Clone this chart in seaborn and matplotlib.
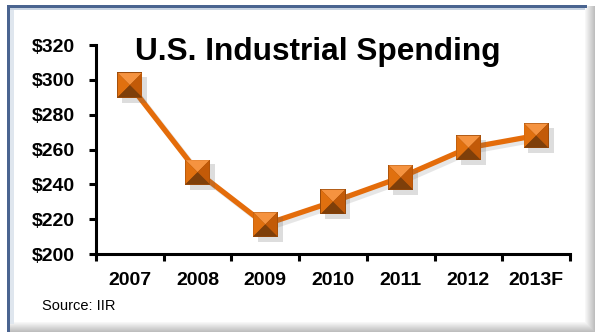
import numpy as np
import pandas as pd
import matplotlib
matplotlib.use("Agg")
import matplotlib.pyplot as plt
import matplotlib.patheffects as pe
from matplotlib.patches import Rectangle
import seaborn as sns

# Dados do gráfico
years = ["2007", "2008", "2009", "2010", "2011", "2012", "2013F"]
spending = [297, 247, 217, 230, 244, 261, 268]
y_ticks = [200, 220, 240, 260, 280, 300, 320]
y_tick_labels = ["$200", "$220", "$240", "$260", "$280", "$300", "$320"]

ORANGE = "#E46C0A"

sns.set_theme(style="white")
plt.rcParams["font.family"] = ["Liberation Sans", "DejaVu Sans"]

df = pd.DataFrame({"pos": np.arange(len(years)), "value": spending})

fig = plt.figure(figsize=(5.95, 3.32), dpi=100)
fig.patch.set_facecolor("white")

# moldura com sombra (painel)
W, H = 595.0, 332.0
for i in range(10):
    g = 0.97 - 0.025 * i
    fig.patches.append(Rectangle((585 / W + i / W, 0), 1 / W + 0.001, 1 - 6 / H,
                                 transform=fig.transFigure, color=(g, g, g), zorder=0, lw=0))
    fig.patches.append(Rectangle((8 / W, (9 - i) / H), 1, 1 / H + 0.001,
                                 transform=fig.transFigure, color=(g, g, g), zorder=0, lw=0))
fig.patches.append(Rectangle((10 / W, 8 / H), 4 / W, 1 - 16 / H,
                             transform=fig.transFigure, color="#dfe6ee", zorder=1, lw=0))
fig.patches.append(Rectangle((7 / W, 0), 3 / W, 1 - 5 / H,
                             transform=fig.transFigure, color="#4a6490", zorder=2, lw=0))
fig.patches.append(Rectangle((7 / W, 1 - 8 / H), 580 / W, 3 / H,
                             transform=fig.transFigure, color="#4a6490", zorder=2, lw=0))
fig.patches.append(Rectangle((10 / W, 1 - 10 / H), 575 / W, 2 / H,
                             transform=fig.transFigure, color="#c9d4e2", zorder=2, lw=0))

ax = fig.add_axes([96 / W, 1 - 254 / H, 474 / W, 209 / H])
ax.set_facecolor("none")

shadow = [pe.SimpleLineShadow(offset=(2.5, -2.5), shadow_color="#777777", alpha=0.18),
          pe.Normal()]
sns.lineplot(data=df, x="pos", y="value", color=ORANGE, linewidth=3.8,
             ax=ax, path_effects=shadow, zorder=3)

# marcadores em forma de pirâmide (quatro faces)
faces = {
    "top": ([(-1, 1), (1, 1), (0, 0)], "#F59340"),
    "left": ([(-1, 1), (-1, -1), (0, 0)], "#E0700F"),
    "right": ([(1, 1), (1, -1), (0, 0)], "#C25A08"),
    "bottom": ([(-1, -1), (1, -1), (0, 0)], "#7E3F0A"),
}
sns.scatterplot(data=df, x="pos", y="value", marker="s", s=330, color="#9a4a0a",
                edgecolor="none", ax=ax, zorder=4,
                path_effects=[pe.SimplePatchShadow(offset=(3.5, -3.5), shadow_rgbFace="#666666", alpha=0.22),
                              pe.Normal()])
for name, (verts, col) in faces.items():
    sns.scatterplot(data=df, x="pos", y="value", marker=verts, s=300, color=col,
                    edgecolor="none", linewidth=0, ax=ax, zorder=5)

ax.set_xlim(-0.5, len(years) - 0.5)
ax.set_ylim(200, 320)
ax.set_xticks(np.arange(len(years)))
ax.set_xticklabels(years, fontsize=14, fontweight="bold")
ax.set_xticks(np.arange(len(years) + 1) - 0.5, minor=True)
ax.set_yticks(y_ticks)
ax.set_yticklabels(y_tick_labels, fontsize=14, fontweight="bold")
ax.tick_params(axis="x", which="major", length=0, pad=13, colors="black")
ax.tick_params(axis="x", which="minor", bottom=True, length=5, width=2.2, direction="out", color="black")
ax.tick_params(axis="y", which="major", left=True, length=5, width=2.2, pad=10, direction="out", colors="black")
ax.set_xlabel("")
ax.set_ylabel("")
for s in ["top", "right"]:
    ax.spines[s].set_visible(False)
for s in ["left", "bottom"]:
    ax.spines[s].set_color("black")
    ax.spines[s].set_linewidth(2.2)
ax.grid(False)

fig.text(135 / W, 1 - 60 / H, "U.S. Industrial Spending", fontsize=22.8, fontweight="bold",
         ha="left", va="baseline", color="black")
fig.text(42 / W, 1 - 310 / H, "Source: IIR", fontsize=10.5, ha="left", va="baseline", color="black")

fig.savefig("out.png", dpi=100, facecolor="white")
